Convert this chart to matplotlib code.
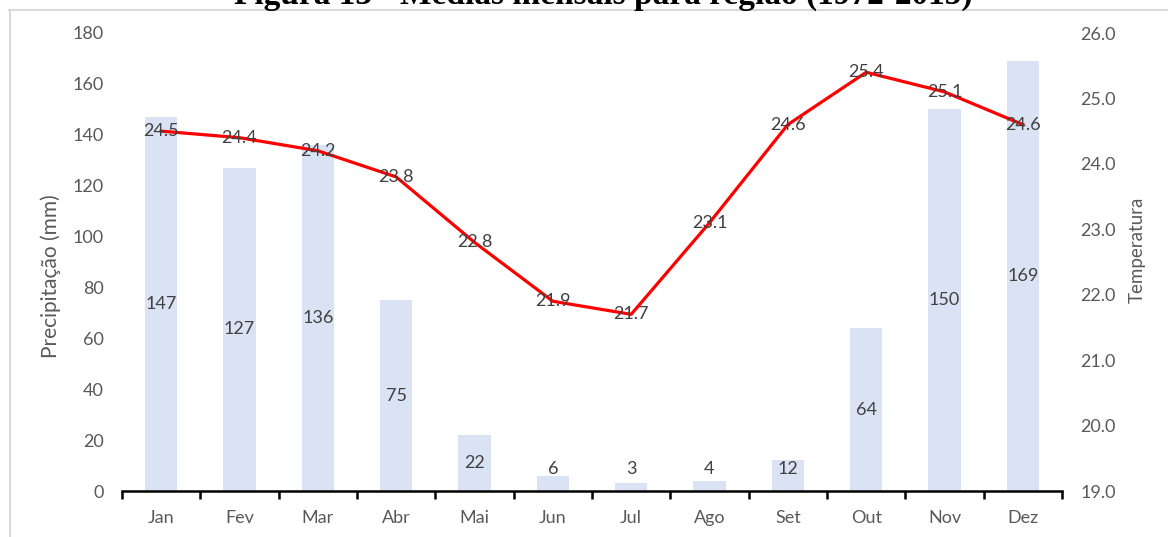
import matplotlib.pyplot as plt
from matplotlib.lines import Line2D
import numpy as np

meses = ["Jan", "Fev", "Mar", "Abr", "Mai", "Jun", "Jul", "Ago", "Set", "Out", "Nov", "Dez"]
precipitacao = [147, 127, 136, 75, 22, 6, 3, 4, 12, 64, 150, 169]
temperatura = [24.5, 24.4, 24.2, 23.8, 22.8, 21.9, 21.7, 23.1, 24.6, 25.4, 25.1, 24.6]

plt.rcParams['font.family'] = ['Lato', 'DejaVu Sans']
texto = '#595959'
fs = 13

fig = plt.figure(figsize=(11.68, 5.37), dpi=100)
ax = fig.add_axes([122 / 1168, 1 - 491 / 537, 940 / 1168, 458 / 537])

x = np.arange(len(meses))
ax.bar(x, precipitacao, width=0.41, color='#DAE3F3', zorder=1)
ax.set_xlim(-0.5, len(meses) - 0.5)
ax.set_ylim(0, 180)
ax.set_yticks(range(0, 181, 20))

# rótulos das barras: no meio da barra, com altura mínima para as pequenas
for xi, v in zip(x, precipitacao):
    ax.text(xi, max(v / 2, 8.6), f"{v}", ha='center', va='center',
            fontsize=fs, color='#404040', zorder=5)

for s in ['top', 'left', 'right']:
    ax.spines[s].set_visible(False)
ax.spines['bottom'].set_linewidth(1.8)
ax.spines['bottom'].set_color('black')

ax.set_xticks(x)
ax.set_xticklabels(meses)
ax.set_xticks(np.arange(-0.5, len(meses)), minor=True)
ax.tick_params(axis='x', which='major', length=0, pad=14, labelsize=fs, labelcolor=texto)
ax.tick_params(axis='x', which='minor', length=6, width=1.8, color='black', direction='out')
ax.tick_params(axis='y', length=0, pad=13, labelsize=fs, labelcolor=texto)
ax.set_ylabel("Precipitação (mm)", fontsize=15, color=texto, va='center', ha='center')
ax.yaxis.set_label_coords(-0.0755, 0.47)

ax2 = ax.twinx()
ax2.plot(x, temperatura, color='#FF0000', lw=2.3, zorder=3)
ax2.set_ylim(19, 26)
ax2.set_yticks(np.arange(19, 26.01, 1.0))
ax2.set_yticklabels([f"{t:.1f}" for t in np.arange(19, 26.01, 1.0)])
for s in ['top', 'left', 'right', 'bottom']:
    ax2.spines[s].set_visible(False)
ax2.tick_params(axis='y', length=0, pad=13, labelsize=fs, labelcolor=texto)
ax2.set_ylabel("Temperatura", fontsize=13.5, color=texto, va='center', ha='center')
ax2.yaxis.set_label_coords(1.0798, 0.526)

for xi, t in zip(x, temperatura):
    ax2.text(xi, t, f"{t:.1f}", ha='center', va='center', fontsize=fs,
             color='#404040', zorder=5)

# moldura do gráfico
fig.add_artist(Line2D([9 / 1168, 1], [1 - 9.5 / 537, 1 - 9.5 / 537], color='#D9D9D9', lw=1.5))
fig.add_artist(Line2D([9.5 / 1168, 9.5 / 1168], [0, 1 - 9.5 / 537], color='#D9D9D9', lw=1.5))

fig.text(603 / 1168, 1 - 4 / 537, "Figura 13 - Médias mensais para região (1972-2015)",
         ha='center', va='baseline', fontsize=24, fontweight='bold',
         family='Liberation Serif', color='black')

fig.savefig("out.png", dpi=100)
